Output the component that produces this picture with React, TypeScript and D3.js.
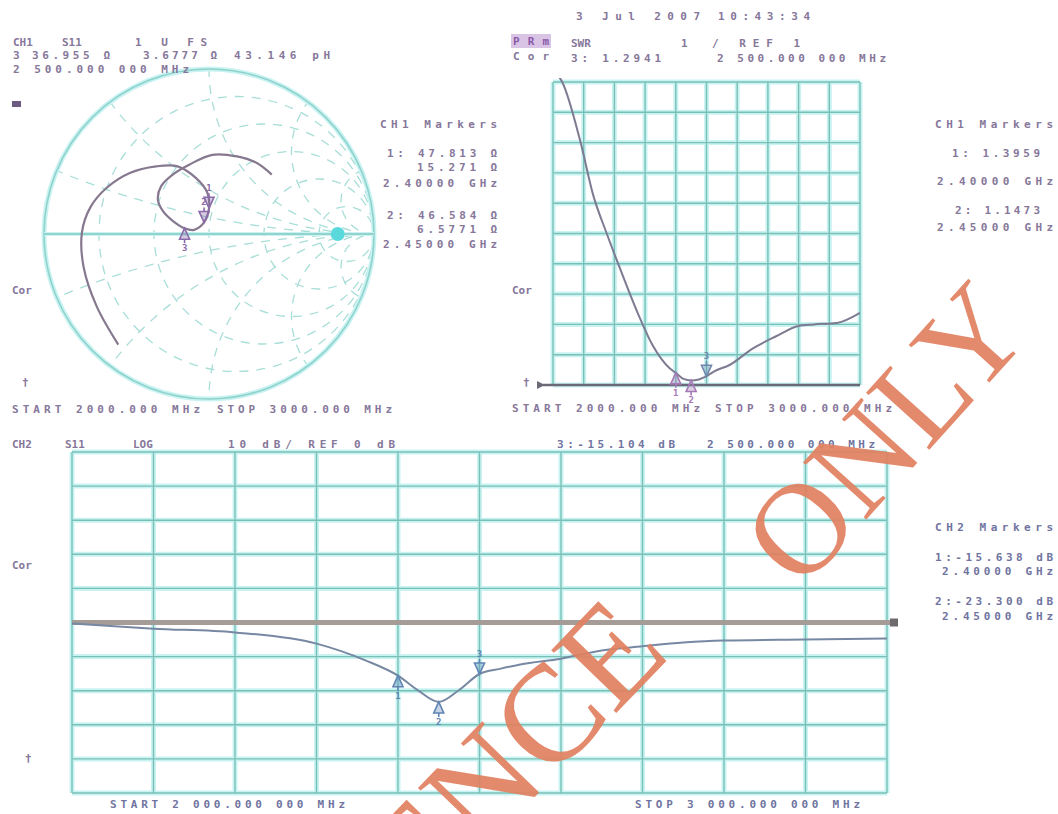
import * as d3 from 'd3';

// sweep: 2000 - 3000 MHz, 10 divisions
const sweepTicks = d3.range(2000, 3001, 100);

// CH1 SWR trace
const swrFreq = [2000, 2030, 2090, 2130, 2175, 2220, 2275, 2325, 2380, 2400, 2425, 2450, 2475, 2500, 2525, 2575, 2650, 2725, 2800, 2850, 2925, 3000];
const swrValue = [11.4, 11.0, 9.0, 7.3, 6.0, 4.8, 3.4, 2.3, 1.55, 1.4, 1.2, 1.15, 1.18, 1.29, 1.45, 1.66, 2.2, 2.6, 2.95, 3.0, 3.05, 3.38];
const swrTicks = d3.range(1, 11.01, 1);

// CH2 S11 log magnitude trace (dB)
const logFreq = [2000, 2100, 2200, 2300, 2360, 2400, 2425, 2450, 2475, 2500, 2525, 2550, 2600, 2650, 2700, 2750, 2800, 2900, 3000];
const logValue = [-0.3, -1.8, -2.9, -6.2, -11.1, -15.6, -20.0, -23.3, -19.8, -15.1, -13.6, -12.3, -10.6, -8.2, -7.0, -5.9, -5.3, -5.0, -4.7];
const logTicks = d3.range(-50, 51, 10);

// CH1 S11 smith trace, reflection coefficient (re, im)
const smithRe = [-0.55, -0.68, -0.76, -0.77, -0.72, -0.62, -0.48, -0.32, -0.19, -0.08, -0.01, 0.0, -0.03, -0.09, -0.148, -0.22, -0.28, -0.31, -0.29, -0.22, -0.12, 0.02, 0.17, 0.29, 0.38];
const smithIm = [-0.67, -0.44, -0.2, 0.01, 0.16, 0.28, 0.37, 0.41, 0.41, 0.34, 0.25, 0.156, 0.07, 0.025, 0.035, 0.08, 0.14, 0.21, 0.29, 0.36, 0.42, 0.48, 0.47, 0.43, 0.36];
const smithMarkerIdx = [11, 12, 14];
const smithR = [0.2, 0.5, 1, 2, 5];
const smithX = [0.2, 0.5, 1, 2, 5];

// markers 1, 2 and active marker
const markerFreq = [2400, 2450, 2500];
const markerNames = ['1', '2', '3'];

const TXT = '#86779a';
const BLUE_TXT = '#7074a0';
const GRID_HALO = '#c9f3f3';
const GRID_CORE = '#78c0b6';

function T({ x, y, w, anchor, fill, children }: any) {
  return (
    <text
      x={x}
      y={y}
      textLength={w}
      lengthAdjust={w ? 'spacing' : undefined}
      textAnchor={anchor || 'start'}
      fill={fill || TXT}
      fontFamily="DejaVu Sans Mono"
      fontWeight="bold"
      fontSize={11}
    >
      {children}
    </text>
  );
}

function Marker({ x, y, side, label, color }: any) {
  return (
    <g transform={`translate(${x},${y})`}>
      <path d={`M0,0 L-5,${-11 * side} L5,${-11 * side} Z`} fill={color} fillOpacity={0.35} stroke={color} strokeWidth={1.6} />
      <line x1={0} x2={0} y1={-11 * side} y2={-15 * side} stroke={color} strokeWidth={1.6} />
      <text x={0} y={side > 0 ? -17 : 23} textAnchor="middle" fontFamily="DejaVu Sans Mono" fontWeight="bold" fontSize={9} fill={color}>{label}</text>
    </g>
  );
}

function Grid({ x, y, xt, yt }: any) {
  const [x0, x1] = x.range();
  const [y0, y1] = y.range();
  const lines = [
    ...xt.map((t: number) => ({ x1: x(t), x2: x(t), y1: y0, y2: y1 })),
    ...yt.map((t: number) => ({ x1: x0, x2: x1, y1: y(t), y2: y(t) })),
  ];
  return (
    <g>
      {lines.map((l, i) => <line key={'h' + i} {...l} stroke={GRID_HALO} strokeWidth={5} />)}
      {lines.map((l, i) => <line key={'c' + i} {...l} stroke={GRID_CORE} strokeWidth={1.4} />)}
    </g>
  );
}

export default function App() {
  const W = 1058, H = 814;

  // smith chart
  const sx = d3.scaleLinear().domain([-1, 1]).range([44, 374]);
  const sy = d3.scaleLinear().domain([-1, 1]).range([399, 69]);
  const R = sx(1) - sx(0);
  const smithLine = d3.line<number>().x((i) => sx(smithRe[i])).y((i) => sy(smithIm[i])).curve(d3.curveCatmullRom.alpha(0.5));
  const smithIdx = d3.range(smithRe.length);

  // SWR plot
  const wx = d3.scaleLinear().domain([2000, 3000]).range([553, 860]);
  const wy = d3.scaleLinear().domain([1, 11]).range([385, 82]);
  const swrLine = d3.line<number>().x((i) => wx(swrFreq[i])).y((i) => wy(swrValue[i])).curve(d3.curveMonotoneX);

  // log plot
  const lx = d3.scaleLinear().domain([2000, 3000]).range([72, 887]);
  const ly = d3.scaleLinear().domain([-50, 50]).range([793, 452]);
  const logLine = d3.line<number>().x((i) => lx(logFreq[i])).y((i) => ly(logValue[i])).curve(d3.curveMonotoneX);

  const swrAt = (f: number) => swrValue[swrFreq.indexOf(f)];
  const logAt = (f: number) => logValue[logFreq.indexOf(f)];

  // watermark: "REFERENCE" ends at (672,655), "ONLY" starts at (801,592)
  const wmFont = { fill: '#e2805f', fillOpacity: 0.92, fontFamily: 'Liberation Serif' };

  return (
    <svg width={W} height={H} viewBox={`0 0 ${W} ${H}`} style={{ position: 'absolute', left: 0, top: 0, background: '#fff' }}>
      <defs>
        <clipPath id="smithClip"><circle cx={sx(0)} cy={sy(0)} r={R} /></clipPath>
        <clipPath id="swrClip"><rect x={553} y={78} width={307} height={309} /></clipPath>
        <clipPath id="logClip"><rect x={72} y={452} width={815} height={341} /></clipPath>
      </defs>
      <rect width={W} height={H} fill="#fff" />

      {/* ---------- Smith chart ---------- */}
      <g clipPath="url(#smithClip)" fill="none" stroke="#a8ded8" strokeWidth={1.3} strokeDasharray="9 8">
        {smithR.map((r) => (
          <circle key={'r' + r} cx={sx(r / (1 + r))} cy={sy(0)} r={R / (1 + r)} />
        ))}
        {smithX.flatMap((x) => [1, -1].map((s) => (
          <circle key={'x' + x + s} cx={sx(1)} cy={sy(s / x)} r={R / x} />
        )))}
      </g>
      <circle cx={sx(0)} cy={sy(0)} r={R} fill="none" stroke={GRID_HALO} strokeWidth={5} />
      <circle cx={sx(0)} cy={sy(0)} r={R} fill="none" stroke="#8fd2cb" strokeWidth={1.6} />
      <line x1={sx(-1)} x2={sx(1)} y1={sy(0)} y2={sy(0)} stroke={GRID_HALO} strokeWidth={4} />
      <line x1={sx(-1)} x2={sx(1)} y1={sy(0)} y2={sy(0)} stroke="#7fc8c0" strokeWidth={1.4} />
      <circle cx={sx(0.78)} cy={sy(0)} r={7} fill="#5ad9dc" />
      <path d={smithLine(smithIdx) || ''} fill="none" stroke="#86798f" strokeWidth={2.2} />
      {smithMarkerIdx.map((k, i) => (
        <Marker key={k} x={sx(smithRe[k])} y={sy(smithIm[k])} side={i === 2 ? -1 : 1} label={markerNames[i]} color="#8a6aa8" />
      ))}
      <rect x={12} y={101} width={9} height={6} fill="#6d5a80" />

      <T x={13} y={46}>CH1</T>
      <T x={62} y={46}>S11</T>
      <T x={135} y={46} w={72}>1 U FS</T>
      <T x={13} y={59}>3</T>
      <T x={32} y={59} w={78}>36.955 Ω</T>
      <T x={143} y={59} w={74}>3.6777 Ω</T>
      <T x={234} y={59} w={96}>43.146 pH</T>
      <T x={13} y={73} w={176}>2 500.000 000 MHz</T>

      <T x={497} y={128} w={117} anchor="end">CH1 Markers</T>
      <T x={497} y={157} w={110} anchor="end">1: 47.813 Ω</T>
      <T x={497} y={171} w={80} anchor="end">15.271 Ω</T>
      <T x={497} y={187} w={114} anchor="end">2.40000 GHz</T>
      <T x={497} y={219} w={110} anchor="end">2: 46.584 Ω</T>
      <T x={497} y={233} w={80} anchor="end">6.5771 Ω</T>
      <T x={497} y={248} w={114} anchor="end">2.45000 GHz</T>
      <T x={12} y={294}>Cor</T>
      <T x={22} y={386}>†</T>
      <T x={12} y={413} w={188}>START 2000.000 MHz</T>
      <T x={217} y={413} w={175}>STOP 3000.000 MHz</T>

      {/* ---------- SWR ---------- */}
      <Grid x={wx} y={wy} xt={sweepTicks} yt={swrTicks} />
      <line x1={543} x2={860} y1={wy(1)} y2={wy(1)} stroke="#6d6878" strokeWidth={2.4} />
      <path d={`M537,${wy(1) - 4} L545,${wy(1)} L537,${wy(1) + 4}Z`} fill="#6d6878" />
      <g clipPath="url(#swrClip)">
        <path d={swrLine(d3.range(swrFreq.length)) || ''} fill="none" stroke="#7d7a92" strokeWidth={2} />
      </g>
      {markerFreq.map((f, i) => (
        <Marker key={f} x={wx(f)} y={wy(swrAt(f))} side={i === 2 ? 1 : -1} label={markerNames[i]} color={i === 2 ? '#6f86ac' : '#a679b6'} />
      ))}

      <T x={576} y={20} w={124}>3 Jul 2007</T>
      <T x={718} y={20} w={92}>10:43:34</T>
      <rect x={511} y={34} width={40} height={14} fill="#d9c4e6" />
      <T x={513} y={45} w={36} fill="#8a5aa6">PRm</T>
      <T x={513} y={60} w={36}>Cor</T>
      <T x={571} y={47}>SWR</T>
      <T x={681} y={47}>1</T>
      <T x={712} y={47} w={88}>/ REF 1</T>
      <T x={571} y={62} w={90}>3: 1.2941</T>
      <T x={717} y={62} w={169}>2 500.000 000 MHz</T>

      <T x={1053} y={128} w={118} anchor="end">CH1 Markers</T>
      <T x={1040} y={157} w={88} anchor="end">1: 1.3959</T>
      <T x={1053} y={185} w={116} anchor="end">2.40000 GHz</T>
      <T x={1040} y={214} w={85} anchor="end">2: 1.1473</T>
      <T x={1053} y={231} w={116} anchor="end">2.45000 GHz</T>
      <T x={512} y={294}>Cor</T>
      <T x={523} y={386}>†</T>
      <T x={512} y={412} w={188}>START 2000.000 MHz</T>
      <T x={715} y={412} w={177}>STOP 3000.000 MHz</T>

      {/* ---------- log magnitude ---------- */}
      <Grid x={lx} y={ly} xt={sweepTicks} yt={logTicks} />
      <line x1={72} x2={893} y1={ly(0)} y2={ly(0)} stroke="#a59c98" strokeWidth={5} />
      <rect x={890} y={ly(0) - 4} width={8} height={8} fill="#6f6a70" />
      <g clipPath="url(#logClip)">
        <path d={logLine(d3.range(logFreq.length)) || ''} fill="none" stroke="#7788a2" strokeWidth={2} />
      </g>
      {markerFreq.map((f, i) => (
        <Marker key={f} x={lx(f)} y={ly(logAt(f))} side={i === 2 ? 1 : -1} label={markerNames[i]} color="#5f84b4" />
      ))}

      <T x={12} y={448}>CH2</T>
      <T x={65} y={448}>S11</T>
      <T x={133} y={448}>LOG</T>
      <T x={228} y={448} w={167}>10 dB/ REF 0 dB</T>
      <T x={557} y={448} w={118} fill={BLUE_TXT}>3:-15.104 dB</T>
      <T x={707} y={448} w={168} fill={BLUE_TXT}>2 500.000 000 MHz</T>
      <T x={12} y={569}>Cor</T>
      <T x={25} y={762}>†</T>
      <T x={110} y={808} w={235} fill={BLUE_TXT}>START 2 000.000 000 MHz</T>
      <T x={635} y={808} w={225} fill={BLUE_TXT}>STOP 3 000.000 000 MHz</T>

      <T x={935} y={531} w={118} fill={BLUE_TXT}>CH2 Markers</T>
      <T x={935} y={561} w={118} fill={BLUE_TXT}>1:-15.638 dB</T>
      <T x={942} y={575} w={111} fill={BLUE_TXT}>2.40000 GHz</T>
      <T x={935} y={605} w={118} fill={BLUE_TXT}>2:-23.300 dB</T>
      <T x={942} y={620} w={111} fill={BLUE_TXT}>2.45000 GHz</T>

      {/* ---------- watermark ---------- */}
      <g transform="translate(672,655) rotate(-46)" {...wmFont} fontSize={138}>
        <text x={0} y={0} textAnchor="end">REFERENCE</text>
      </g>
      <g transform="translate(801,592) rotate(-48)" {...wmFont} fontSize={130}>
        <text x={0} y={0}>ONLY</text>
      </g>
    </svg>
  );
}
